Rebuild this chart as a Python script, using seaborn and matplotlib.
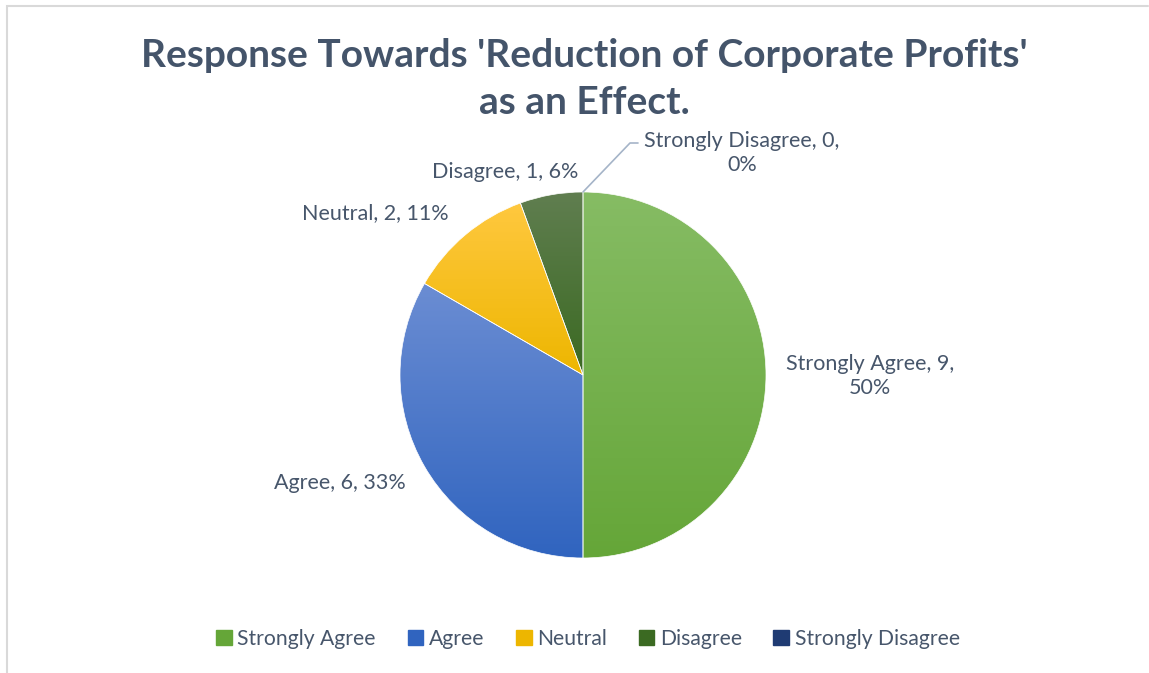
import numpy as np
import matplotlib
matplotlib.use("Agg")
import matplotlib.pyplot as plt
import seaborn as sns
from matplotlib.colors import LinearSegmentedColormap
from matplotlib.patches import Rectangle

# --------------------------------------------------
# DATA
# --------------------------------------------------

categories = ["Strongly Agree", "Agree", "Neutral", "Disagree", "Strongly Disagree"]
counts = [9, 6, 2, 1, 0]
percents = ["50%", "33%", "11%", "6%", "0%"]

# gradient (top, bottom) per slice
top_colors = ["#86BC64", "#6B8DD3", "#FFC83F", "#607E50", "#3D5A8E"]
bottom_colors = ["#65A638", "#3064BF", "#EDB600", "#3B6A22", "#1F3B73"]

title = "Response Towards 'Reduction of Corporate Profits'\nas an Effect."

# --------------------------------------------------
# STYLE
# --------------------------------------------------

sns.set_theme(style="white")
plt.rcParams["font.family"] = ["Lato", "DejaVu Sans"]
text_color = "#44546A"
label_color = "#47566B"

W, H = 1149, 673
fig = plt.figure(figsize=(W / 100, H / 100), dpi=100)
ax = fig.add_axes([0, 0, 1, 1])

cx, cy, r = 583, H - 375, 183

wedges, _ = ax.pie(
    counts,
    startangle=90,
    counterclock=False,
    radius=r,
    center=(cx, cy),
    colors=bottom_colors,
    wedgeprops=dict(linewidth=0.5, edgecolor="white"),
)

# vertical gradient inside each wedge
for w, c0, c1 in zip(wedges, top_colors, bottom_colors):
    if w.theta1 == w.theta2:
        continue
    bb = w.get_path().get_extents()
    cmap = LinearSegmentedColormap.from_list("g", [c1, c0])
    grad = np.linspace(0, 1, 256).reshape(-1, 1)
    im = ax.imshow(grad, cmap=cmap, origin="lower", aspect="auto",
                   extent=[bb.x0, bb.x1, bb.y0, bb.y1], zorder=w.get_zorder())
    im.set_clip_path(w)
    w.set_facecolor("none")
    w.set_zorder(w.get_zorder() + 0.5)

ax.set_xlim(0, W)
ax.set_ylim(0, H)
ax.set_aspect("equal")
ax.axis("off")

# chart border (left and top edges visible)
ax.plot([7, 7, W - 1], [0, H - 6, H - 6], color="#D9D9D9", linewidth=1.5,
        zorder=0, solid_joinstyle="miter")

# --------------------------------------------------
# DATA LABELS
# --------------------------------------------------

lab_pos = [(870, 376), (340, 483), (375, 213), (505, 172), (742, 153)]
for i, (name, n, p) in enumerate(zip(categories, counts, percents)):
    if i in (0, 4):
        txt = f"{name}, {n},\n{p}"
    else:
        txt = f"{name}, {n}, {p}"
    x, y = lab_pos[i]
    ax.text(x, H - y, txt, ha="center", va="center", fontsize=15.5,
            color=label_color, linespacing=1.25)

# leader line for zero slice
ax.plot([cx, 630, 638], [cy + r, H - 143, H - 143], color="#A5B4C8",
        linewidth=1.2, zorder=5)

# --------------------------------------------------
# TITLE + LEGEND
# --------------------------------------------------

fig.text(584 / W, 1 - 79 / H, title, ha="center", va="center", fontsize=28,
         fontweight="bold", color=text_color, linespacing=1.42)

handles = [Rectangle((0, 0), 1, 1, color=c) for c in bottom_colors]
fig.legend(handles, categories, loc="center",
           bbox_to_anchor=(588 / W, 1 - 639 / H),
           ncol=5, frameon=False, fontsize=15.2, handlelength=0.75,
           handleheight=0.75, handletextpad=0.25, columnspacing=1.5,
           labelcolor=label_color)

fig.savefig("out.png", dpi=100, facecolor="white")
